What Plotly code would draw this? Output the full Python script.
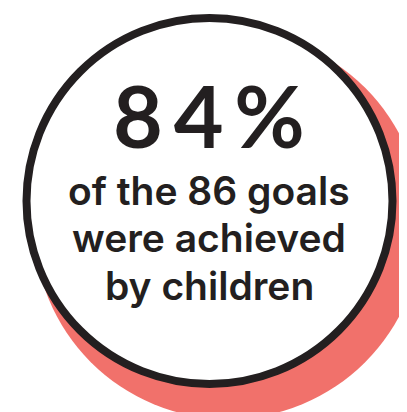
import plotly.graph_objects as go

# ---- data ----
percent_achieved = 84
total_goals = 86
headline = f"{percent_achieved}%"
caption_lines = [f"of the {total_goals} goals", "were achieved", "by children"]

# ---- style / layout constants ----
W, H = 407, 412
INK = "#231F20"
SALMON = "#F1716B"
HEAD_FONT = "Lato"
BODY_FONT = "Inter"

fig = go.Figure()

# shadow circle
fig.add_shape(type="circle", xref="x", yref="y", x0=26, x1=414, y0=23, y1=411,
              fillcolor=SALMON, line=dict(width=0), layer="below")
# main circle
fig.add_shape(type="circle", xref="x", yref="y", x0=18.5, x1=384.5, y0=10, y1=376,
              fillcolor="white", line=dict(color=INK, width=8), layer="below")

spaced = "\u2009".join(headline)
fig.add_annotation(x=201, y=54, xref="x", yref="y", text=spaced, showarrow=False,
                   font=dict(family=HEAD_FONT, size=86, color=INK, weight=700),
                   xanchor="center", yanchor="top", borderpad=0)

line_top = [157.7, 205.2, 252.7]
for txt, yy in zip(caption_lines, line_top):
    fig.add_annotation(x=201, y=yy, xref="x", yref="y", text=txt, showarrow=False,
                       font=dict(family=BODY_FONT, size=39, color=INK, weight=600),
                       xanchor="center", yanchor="top", borderpad=0)

fig.update_xaxes(range=[0, W], visible=False, fixedrange=True)
fig.update_yaxes(range=[H, 0], visible=False, fixedrange=True)
fig.update_layout(width=W, height=H, margin=dict(l=0, r=0, t=0, b=0),
                  paper_bgcolor="white", plot_bgcolor="white", showlegend=False)

fig.write_html("out.html", config={"displayModeBar": False})
